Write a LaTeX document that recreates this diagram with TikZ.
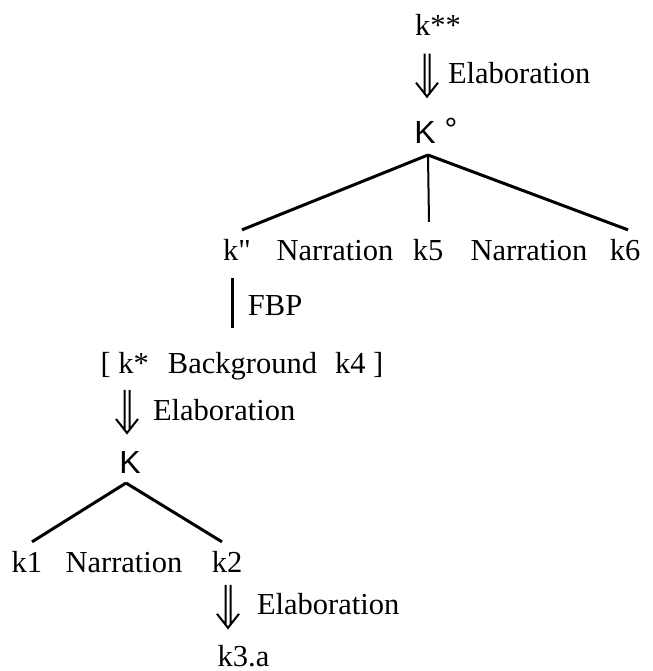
\documentclass[tikz,border=0pt]{standalone}
\usepackage{fontspec}
\setmainfont{Liberation Serif}
\setsansfont{Liberation Sans}
\newfontfamily\plainserif{Liberation Serif}
\usetikzlibrary{calc}

\begin{document}
\begin{tikzpicture}[x=0.5pt,y=-0.5pt,
lbl/.style={inner sep=0pt,outer sep=0pt,anchor=base,font=\fontsize{15.25}{18}\selectfont},
sflbl/.style={lbl,font=\fontsize{16}{18}\selectfont\sffamily},
branch/.style={line width=1.5pt},
dnarrow/.pic={\draw[line width=1pt] (-2.5,-43) -- (-2.5,-3) (2.5,-43) -- (2.5,-3) (-11,-14) -- (0,0) -- (11,-14);}]
\useasboundingbox (0,0) rectangle (653,671);
\draw (438,35) node[lbl] (kss) {k**};
\draw (425,143) node[sflbl] (Kdeg) {K\rlap{ \raisebox{1.5pt}{°}}};
\draw (448,83) node[lbl,anchor=base west] (el1) {Elaboration};
\path ([xshift=1pt,yshift=10.5pt]Kdeg.north) pic {dnarrow};
\draw (237,260) node[lbl] (kpp) {k{\plainserif"}};
\draw (335,260) node[lbl] (nar1) {Narration};
\draw (428,260) node[lbl] (k5) {k5};
\draw (529,260) node[lbl] (nar2) {Narration};
\draw (625,260) node[lbl] (k6) {k6};
\draw[branch] ([xshift=1.5pt,yshift=-6pt]Kdeg.south) -- ([xshift=2.5pt,yshift=4.5pt]kpp.north);
\draw[branch] ([xshift=1.5pt,yshift=-6pt]Kdeg.south) -- ([xshift=1.5pt,yshift=4.5pt]k6.north);
\draw[line width=1pt] ([xshift=1.5pt,yshift=-6pt]Kdeg.south) -- ([xshift=0.5pt,yshift=8.5pt]k5.north);
\draw (242,373) node[lbl] (bkg) {[ k*\hspace{9.5pt}Background\hspace{9pt}k4 ]};
\draw (248,315) node[lbl,anchor=base west] (fbp) {FBP};
\draw[branch] ($(kpp.base)+(-5,18)$) -- ($(kpp.base |- bkg.base)+(-5,-45)$);
\draw (130,473) node[sflbl] (K) {K};
\draw (153,420) node[lbl,anchor=base west] (el2) {Elaboration};
\path ([xshift=-1.5pt,yshift=9pt]K.north) pic {dnarrow};
\draw (27,572) node[lbl] (k1) {k1};
\draw (124,572) node[lbl] (nar3) {Narration};
\draw (227,572) node[lbl] (k2) {k2};
\draw[branch] ([xshift=-2pt,yshift=-5pt]K.south) -- ([xshift=2.5pt,yshift=4.5pt]k1.north);
\draw[branch] ([xshift=-2pt,yshift=-5pt]K.south) -- ([xshift=-2.5pt,yshift=4.5pt]k2.north);
\draw (243.5,666) node[lbl] (k3a) {k3.a};
\draw (257,614) node[lbl,anchor=base west] (el3) {Elaboration};
\path ([xshift=-7.75pt,yshift=8.5pt]k3a.north) pic {dnarrow};
\end{tikzpicture}
\end{document}
